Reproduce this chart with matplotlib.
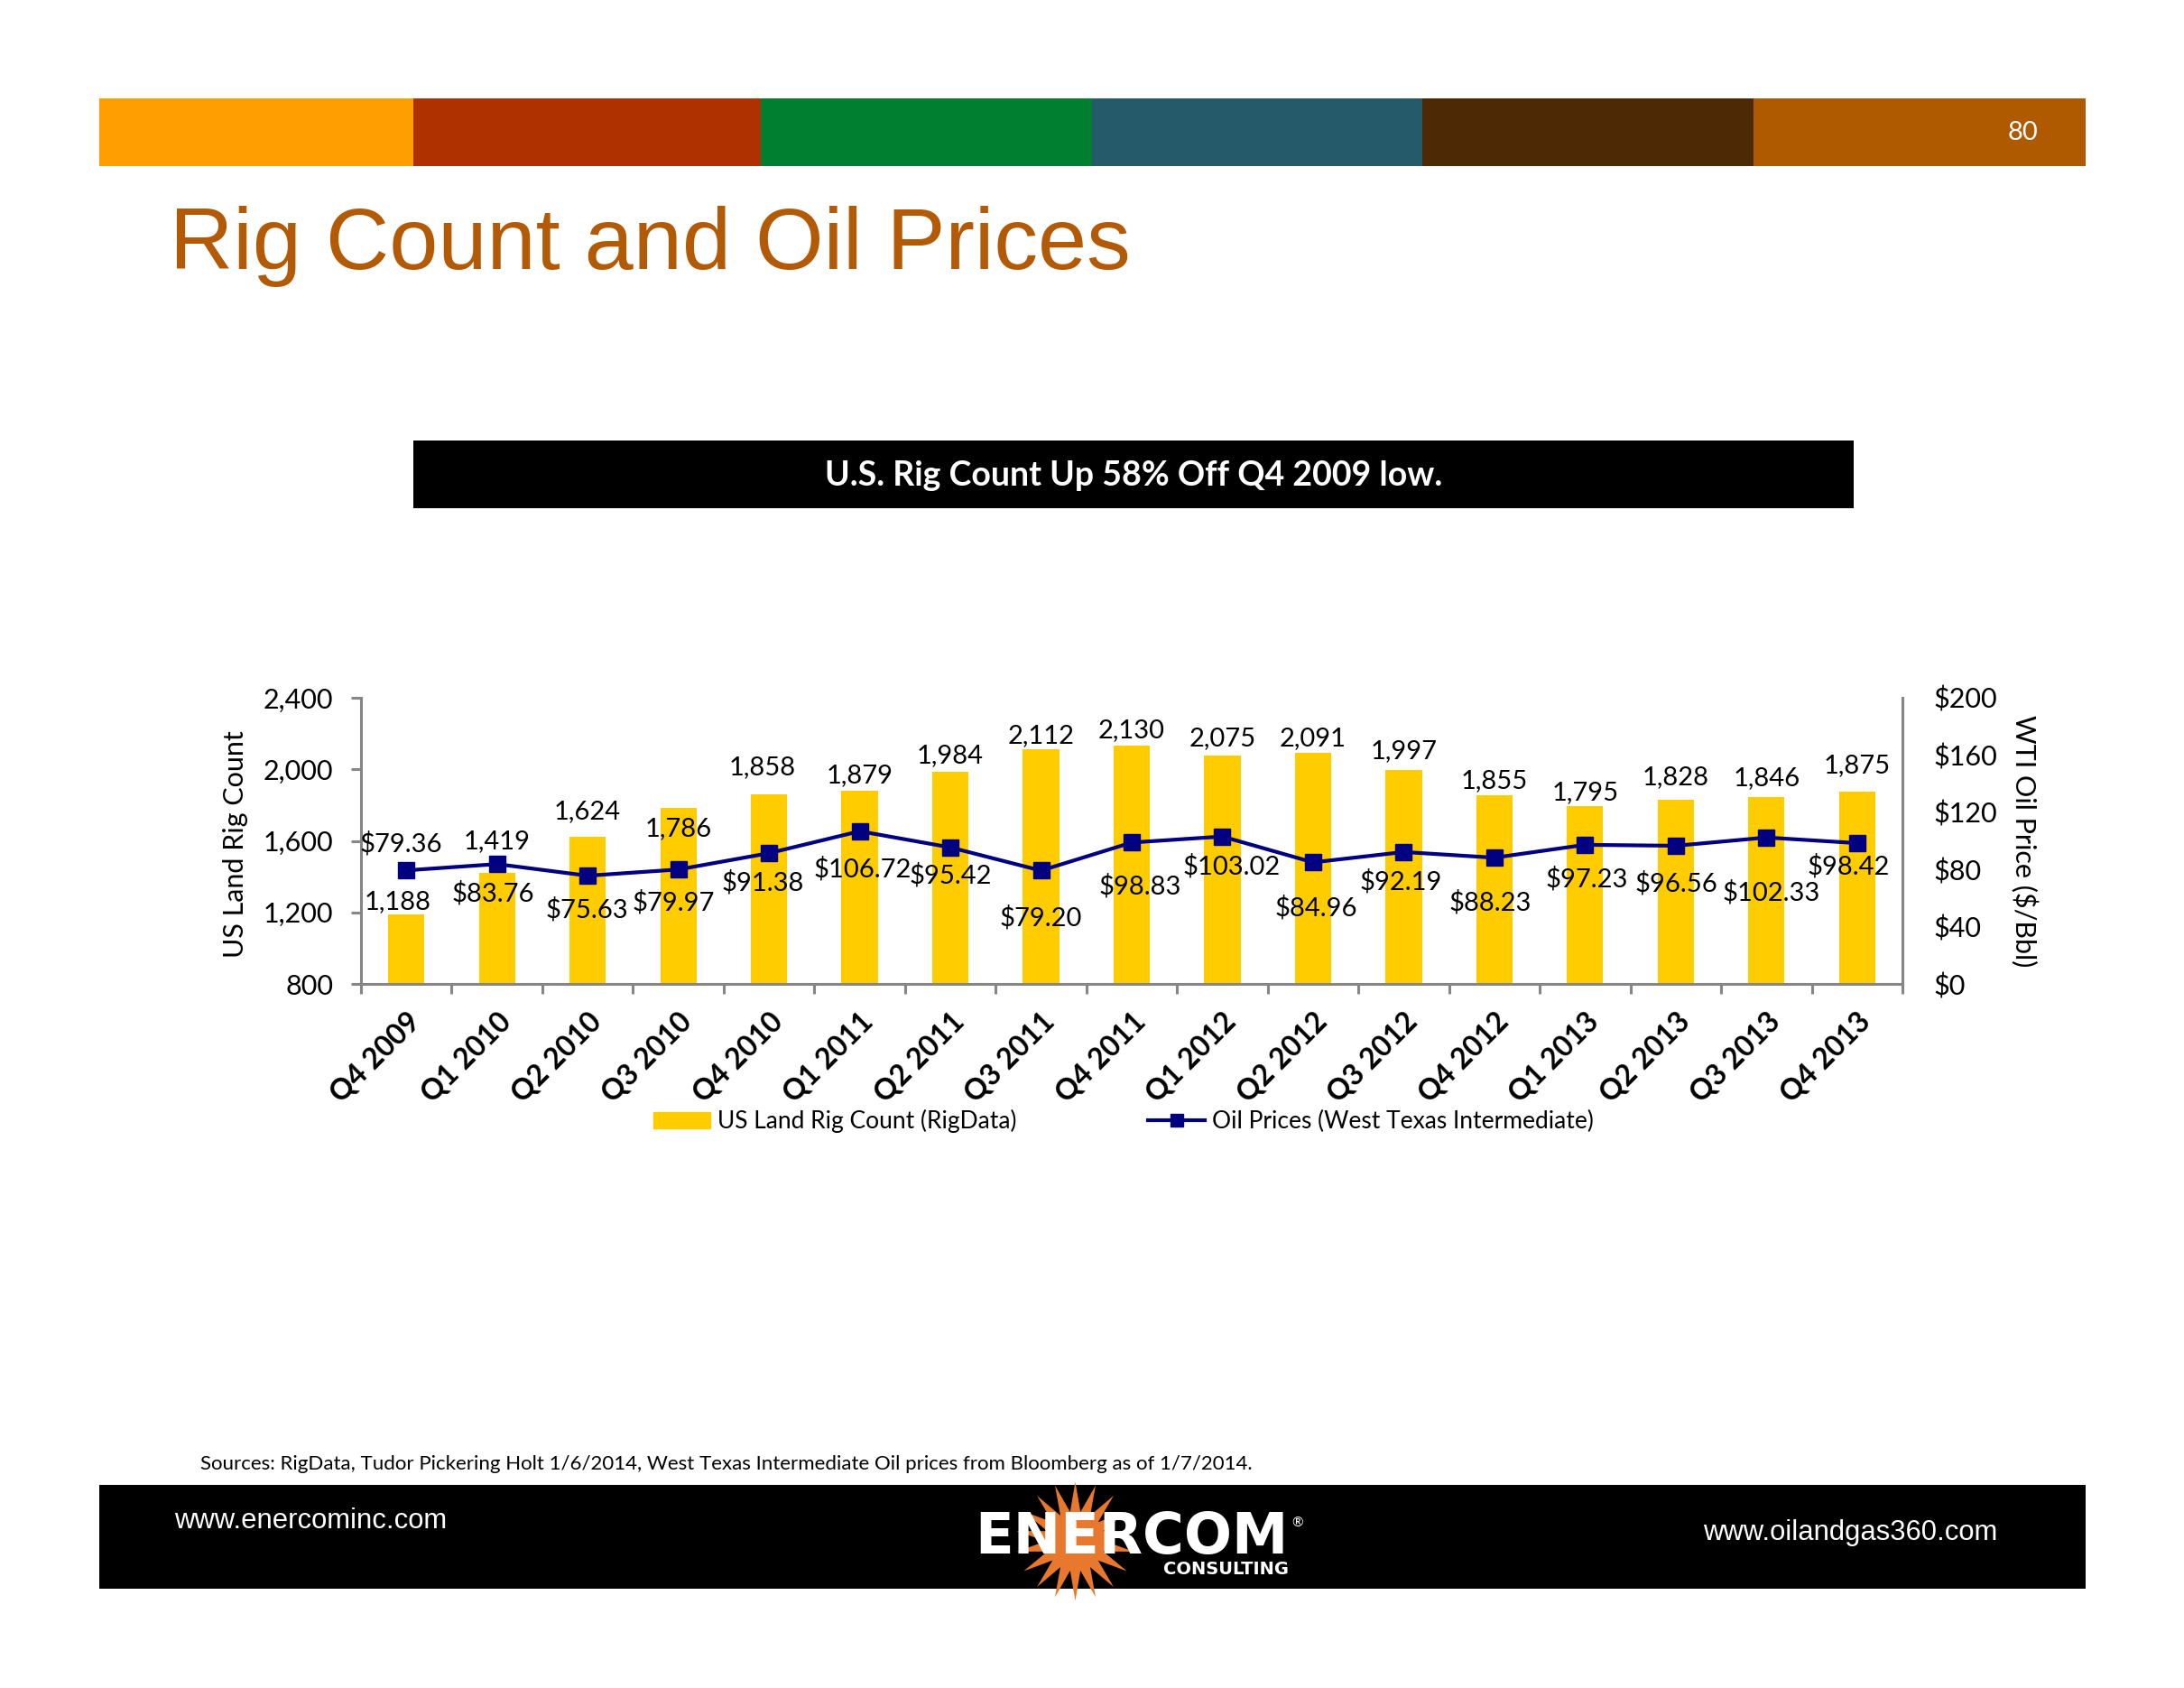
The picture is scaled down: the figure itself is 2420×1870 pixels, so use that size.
import matplotlib.pyplot as plt
from matplotlib.patches import Rectangle, Patch
from matplotlib.lines import Line2D
from matplotlib.ticker import FuncFormatter
import numpy as np

quarters = ["Q4 2009", "Q1 2010", "Q2 2010", "Q3 2010", "Q4 2010", "Q1 2011",
            "Q2 2011", "Q3 2011", "Q4 2011", "Q1 2012", "Q2 2012", "Q3 2012",
            "Q4 2012", "Q1 2013", "Q2 2013", "Q3 2013", "Q4 2013"]
rig_count = [1188, 1419, 1624, 1786, 1858, 1879, 1984, 2112, 2130,
             2075, 2091, 1997, 1855, 1795, 1828, 1846, 1875]
oil_price = [79.36, 83.76, 75.63, 79.97, 91.38, 106.72, 95.42, 79.20, 98.83,
             103.02, 84.96, 92.19, 88.23, 97.23, 96.56, 102.33, 98.42]

# label shifts in pixels (screen, down = positive), as placed on the slide
rig_lab_dx = [-10, 0, 0, 0, -7, 0, 0, 0, 0, 0, 0, 0, 0, 0, 0, 0, 0]
rig_lab_dy = [-14, -35, -28, 23, -30, -17, -18, -15, -17, -19, -16, -21, -16, -15, -25, -21, -29]
oil_lab_dx = [-6, -4, -1, -5, -7, 3, 0, 0, 9, 10, 3, -3, -5, 2, 1, 5, -10]
oil_lab_dy = [-29, 33, 38, 37, 33, 42, 31, 52, 48, 33, 50, 33, 50, 38, 42, 61, 26]

band_colors = ["#FF9E00", "#AF3100", "#007F31", "#245A69", "#4E2905", "#AF5A00"]
band_edges = [110, 458, 843, 1210, 1576, 1943, 2311]

gray = "#868686"
W, H = 2420, 1870

plt.rcParams['font.family'] = ['Lato', 'DejaVu Sans']

fig = plt.figure(figsize=(W / 100, H / 100), dpi=100)
fig.patch.set_facecolor("white")

# slide decoration, drawn in pixel coordinates
bg = fig.add_axes([0, 0, 1, 1])
bg.set_xlim(0, W)
bg.set_ylim(H, 0)
bg.axis('off')

for i in range(len(band_colors)):
    bg.add_patch(Rectangle((band_edges[i], 109), band_edges[i + 1] - band_edges[i], 75,
                           color=band_colors[i], lw=0))
bg.text(2241, 147, "80", color="white", fontsize=21, ha="center", va="center")
bg.text(188, 298, "Rig Count and Oil Prices", family="Liberation Sans", fontsize=70,
        color="#B35A06", ha="left", va="baseline")

bg.add_patch(Rectangle((458, 488), 2054 - 458, 75, color="black", lw=0))
bg.text(1256, 527, "U.S. Rig Count Up 58% Off Q4 2009 low.", color="white",
        fontsize=27, fontweight="bold", ha="center", va="center")

bg.text(222, 1622, "Sources: RigData, Tudor Pickering Holt 1/6/2014, West Texas Intermediate "
        "Oil prices from Bloomberg as of 1/7/2014.", fontsize=16, ha="left", va="center")

bg.add_patch(Rectangle((110, 1645), 2311 - 110, 115, color="black", lw=0))
bg.text(193, 1685, "www.enercominc.com", family="Liberation Sans", fontsize=22.3,
        color="white", ha="left", va="center")
bg.text(2213, 1698, "www.oilandgas360.com", family="Liberation Sans", fontsize=22.3,
        color="white", ha="right", va="center")
bg.scatter([1191], [1707], s=95 ** 2, marker=(18, 1, 0), color="#E8782E", lw=0)
bg.text(1080, 1721, "ENERCOM", family="DejaVu Sans", fontweight="bold", fontsize=45,
        color="white", ha="left", va="baseline")
bg.text(1428, 1738, "CONSULTING", family="DejaVu Sans", fontweight="bold", fontsize=14,
        color="white", ha="right", va="center")
bg.text(1438, 1688, "®", fontsize=11, color="white", ha="center", va="center")

# chart
ax = fig.add_axes([400 / W, (H - 1090) / H, (2108 - 400) / W, (1090 - 773) / H])
ax2 = ax.twinx()

x = np.arange(len(quarters))
bars = ax.bar(x, rig_count, width=0.4, color="#FFCC00", zorder=2)
line, = ax2.plot(x, oil_price, color="#000080", lw=3, marker="s", ms=13.5, zorder=3)

ax.set_xlim(-0.5, len(quarters) - 0.5)
ax.set_ylim(800, 2400)
ax.set_yticks([800, 1200, 1600, 2000, 2400])
ax.yaxis.set_major_formatter(FuncFormatter(lambda v, p: f"{int(v):,}"))
ax2.set_ylim(0, 200)
ax2.set_yticks([0, 40, 80, 120, 160, 200])
ax2.yaxis.set_major_formatter(FuncFormatter(lambda v, p: f"${int(v)}"))

ax.set_xticks(np.arange(-0.5, len(quarters), 1))
ax.set_xticklabels([])
ax.set_xticks(x, minor=True)
ax.set_xticklabels(quarters, minor=True, rotation=45, ha="right", va="top",
                   rotation_mode="anchor", fontweight="bold", fontsize=23)
ax.tick_params(axis="x", which="minor", length=0, pad=19)
ax.tick_params(axis="x", which="major", length=8, width=2.2, color=gray)
ax.tick_params(axis="y", length=8, width=2.2, color=gray, labelsize=22, pad=14)
ax2.tick_params(axis="y", length=0, labelsize=22, pad=25)

for s in ["top", "right"]:
    ax.spines[s].set_visible(False)
for s in ["top", "left", "bottom"]:
    ax2.spines[s].set_visible(False)
ax.spines["left"].set_color(gray)
ax.spines["bottom"].set_color(gray)
ax2.spines["right"].set_color(gray)
for sp in [ax.spines["left"], ax.spines["bottom"], ax2.spines["right"]]:
    sp.set_linewidth(2.2)

ax.set_ylabel("US Land Rig Count", fontsize=22)
ax.yaxis.set_label_coords(-0.0814, 0.49)
ax.yaxis.label.set_va("center")
ax2.set_ylabel("WTI Oil Price ($/Bbl)", fontsize=22, rotation=-90)
ax2.yaxis.set_label_coords(1.079, 0.5)
ax2.yaxis.label.set_va("center")

for i in range(len(quarters)):
    ax.annotate(f"{rig_count[i]:,}", (x[i], rig_count[i]),
                xytext=(rig_lab_dx[i], -rig_lab_dy[i]), textcoords="offset pixels",
                ha="center", va="center", fontsize=21, zorder=4)
    ax2.annotate(f"${oil_price[i]:.2f}", (x[i], oil_price[i]),
                 xytext=(oil_lab_dx[i], -oil_lab_dy[i]), textcoords="offset pixels",
                 ha="center", va="center", fontsize=21, zorder=4)

handles = [Patch(color="#FFCC00"),
           Line2D([0], [0], color="#000080", lw=3, marker="s", ms=10)]
fig.legend(handles, ["US Land Rig Count (RigData)", "Oil Prices (West Texas Intermediate)"],
           loc="center left", bbox_to_anchor=(724 / W, 1 - 1242 / H), ncol=2,
           frameon=False, fontsize=19, handlelength=2.4, handleheight=0.65,
           handletextpad=0.3, columnspacing=5.5, borderpad=0, borderaxespad=0)

plt.savefig("out.png", dpi=100)
